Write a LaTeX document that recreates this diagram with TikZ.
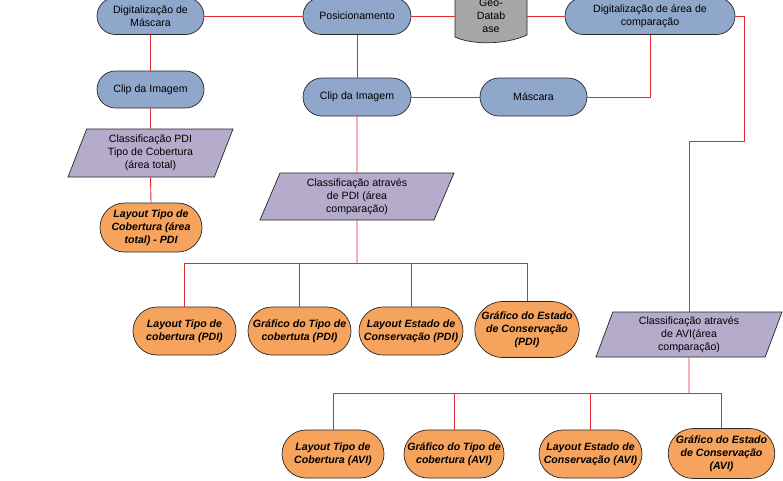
\documentclass[tikz,border=0pt]{standalone}
\usepackage{fontspec}
\setmainfont{Liberation Sans}
\usetikzlibrary{shapes.misc,shapes.geometric}
\definecolor{bluef}{RGB}{143,167,203}
\definecolor{oraf}{RGB}{245,163,93}
\definecolor{purf}{RGB}{181,172,204}
\definecolor{grayf}{RGB}{166,166,166}
\definecolor{redl}{RGB}{228,40,50}
\begin{document}
\begin{tikzpicture}[x=1pt,y=-1pt,
  base/.style={draw=black!85, line width=0.7pt, align=center, inner sep=0pt, text=black,
    font=\fontsize{10.6}{13}\selectfont},
  blu/.style={base, rounded rectangle, fill=bluef, minimum width=107pt, minimum height=37pt},
  ora/.style={base, rounded rectangle, fill=oraf, minimum width=103pt, minimum height=48pt,
    font=\fontsize{10.6}{13}\selectfont\bfseries\itshape},
  par/.style={base, trapezium, fill=purf, trapezium stretches body=true},
  conn/.style={draw=redl, line width=0.9pt}
]
\useasboundingbox (0,0) rectangle (783,480);
\fill[white] (0,0) rectangle (783,480);

% top row
\node[blu] (digm) at (150.5,16) {Digitaliza\c{c}\~ao de\\M\'ascara};
\node[blu, minimum width=108pt] (posic) at (357,16) {Posicionamento};
\filldraw[fill=grayf, draw=black!85, line width=0.7pt]
  (455,-4) -- (455,37) .. controls (472,45) and (505,45) .. (527,35) -- (527,-4) -- cycle;
\node[base, draw=none, minimum width=72pt, minimum height=40pt] (geo) at (491,16) {Geo-\\Datab\\ase};
\node[blu, minimum width=170pt] (diga) at (650,16) {Digitaliza\c{c}\~ao de \'area de\\compara\c{c}\~ao};

% second row
\node[blu] (clipL) at (150.5,89.5) {Clip da Imagem};
\node[blu, minimum width=108pt, minimum height=38pt] (clipR) at (357,97) {Clip da Imagem};
\node[blu, minimum height=38pt] (masc) at (533.5,97) {M\'ascara};

% left column
\node[par, trapezium left angle=62.5, trapezium right angle=117.5,
  minimum width=165pt, minimum height=48pt] (cp1) at (150.5,153)
  {Classifica\c{c}\~ao PDI\\Tipo de Cobertura\\(\'area total)};
\node[ora, minimum width=102pt, minimum height=49pt] (lay1) at (151,227.5)
  {Layout Tipo de\\Cobertura (\'area\\total) - PDI};

% middle column
\node[par, trapezium left angle=61, trapezium right angle=119,
  minimum width=194pt, minimum height=47pt] (cp2) at (357,196.5)
  {Classifica\c{c}\~ao atrav\'es\\de PDI (\'area\\compara\c{c}\~ao)};
\node[ora] (p1) at (184.5,331) {Layout Tipo de\\cobertura (PDI)};
\node[ora] (p2) at (299.5,331) {Gr\'afico do Tipo de\\cobertuta (PDI)};
\node[ora, minimum width=104pt] (p3) at (411,331) {Layout Estado de\\Conserva\c{c}\~ao (PDI)};
\node[ora, minimum width=102pt, minimum height=56pt] (p4) at (527,329.5) {Gr\'afico do Estado\\de Conserva\c{c}\~ao\\(PDI)};

% right column
\node[par, trapezium left angle=65, trapezium right angle=115,
  minimum width=186pt, minimum height=45pt] (cavi) at (689,334.5)
  {Classifica\c{c}\~ao atrav\'es\\de AVI(\'area\\compara\c{c}\~ao)};
\node[ora, minimum width=102pt] (a1) at (333,454) {Layout Tipo de\\Cobertura (AVI)};
\node[ora, minimum width=100pt] (a2) at (454,454) {Gr\'afico do Tipo de\\cobertura (AVI)};
\node[ora] (a3) at (590.5,454) {Layout Estado de\\Conserva\c{c}\~ao (AVI)};
\node[ora, minimum width=105pt, minimum height=50pt] (a4) at (721.5,453.5) {Gr\'afico do Estado\\de Conserva\c{c}\~ao\\(AVI)};

% connectors
\draw[conn] (digm.east) -- (posic.west);
\draw[conn] (posic.east) -- (geo.west);
\draw[conn] (geo.east) -- (diga.west);
\draw[conn] (digm.south) -- (clipL.north);
\draw[conn] (clipL.south) -- (cp1.north);
\draw[conn] (cp1.south) -- (lay1.north);
\draw[conn] (posic.south) -- (clipR.north);
\draw[conn] (masc.west) -- (clipR.east);
\draw[conn] (diga.south) |- (masc.east);
\draw[conn] (clipR.south) -- (cp2.north);
\coordinate (k1) at (744,141);
\draw[conn] (diga.east) -| (k1) -| (cavi.north);

\coordinate (busP) at (357,263);
\draw[conn] (cp2.south) -- (busP);
\draw[conn] (busP) -| (p1.north);
\draw[conn] (busP) -| (p2.north);
\draw[conn] (busP) -| (p3.north);
\draw[conn] (busP) -| (p4.north);

\coordinate (busA) at (689,393);
\draw[conn] (cavi.south) -- (busA);
\draw[conn] (busA) -| (a1.north);
\draw[conn] (busA) -| (a2.north);
\draw[conn] (busA) -| (a3.north);
\draw[conn] (busA) -| (a4.north);
\end{tikzpicture}
\end{document}
